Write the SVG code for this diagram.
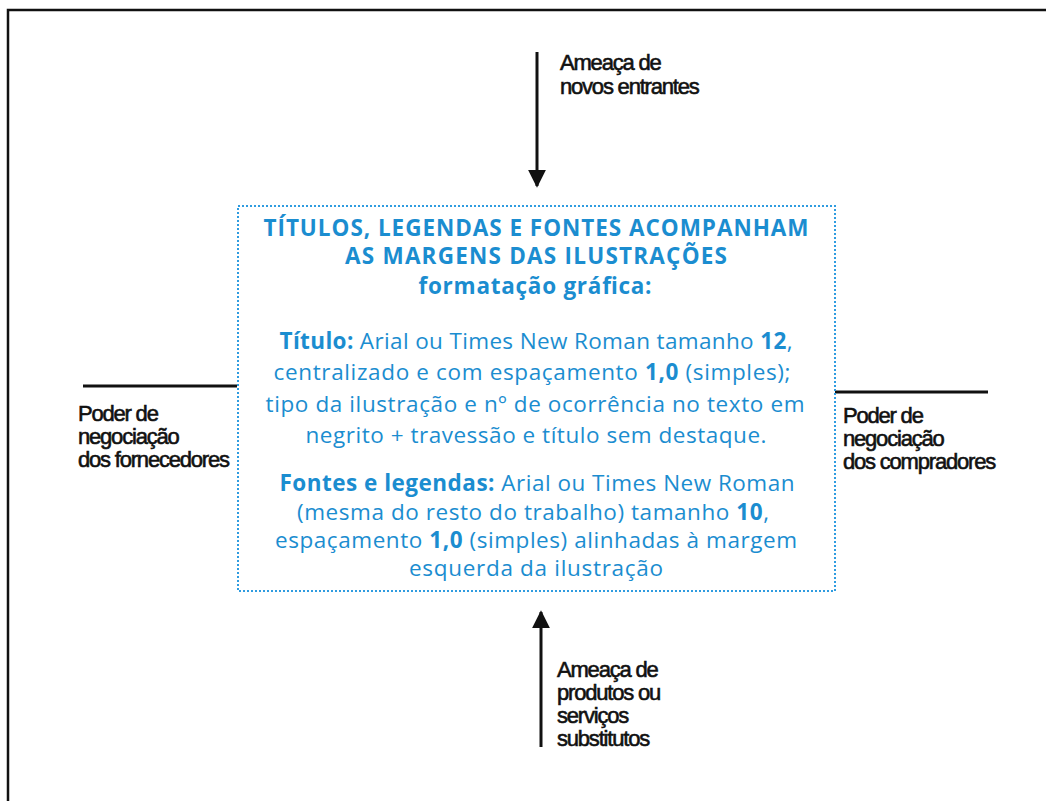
<svg xmlns="http://www.w3.org/2000/svg" width="1046" height="801" viewBox="0 0 1046 801">
<style>
.lbl{font-family:"Liberation Sans",Arial,sans-serif;font-size:22px;letter-spacing:-1.2px;fill:#111;stroke:#111;stroke-width:0.6}
.bx{font-family:"Open Sans","Noto Sans",sans-serif;fill:#1b8dd0;text-anchor:middle}
.hd{font-size:22.5px;font-weight:bold}
.bd{font-size:22.5px}
.b{font-weight:bold}
.ln{stroke:#111;stroke-width:3;fill:none}
</style>
<defs>
<marker id="ah" viewBox="0 0 10 10" refX="9" refY="5" markerWidth="6" markerHeight="6.5" markerUnits="strokeWidth" orient="auto">
<path d="M0,0 L10,5 L0,10 z" fill="#111"/>
</marker>
</defs>
<rect width="1046" height="801" fill="#fff"/>
<g id="frame">
<path d="M8,801 V10 H1046" fill="none" stroke="#111" stroke-width="2.5"/>
</g>
<g id="connectors">
<line class="ln" x1="537" y1="52" x2="537" y2="186" marker-end="url(#ah)"/>
<line class="ln" x1="541" y1="747" x2="541" y2="612" marker-end="url(#ah)"/>
<line class="ln" x1="83" y1="386" x2="237" y2="386"/>
<line class="ln" x1="835" y1="392" x2="988" y2="392"/>
</g>
<g id="center">
<rect x="238" y="206" width="597" height="385" fill="none" stroke="#2f9ce0" stroke-width="2" stroke-dasharray="2,2"/>
<text class="bx hd" x="536" y="236" textLength="545">TÍTULOS, LEGENDAS E FONTES ACOMPANHAM</text>
<text class="bx hd" x="536" y="264" textLength="382">AS MARGENS DAS ILUSTRAÇÕES</text>
<text class="bx hd" x="535" y="294" textLength="233">formatação gráfica:</text>
<text class="bx bd" x="536" y="349" textLength="513"><tspan class="b">Título:</tspan> Arial ou Times New Roman tamanho <tspan class="b">12</tspan>,</text>
<text class="bx bd" x="532" y="380" textLength="517">centralizado e com espaçamento <tspan class="b">1,0</tspan> (simples);</text>
<text class="bx bd" x="535" y="412" textLength="539">tipo da ilustração e nº de ocorrência no texto em</text>
<text class="bx bd" x="536" y="443" textLength="461">negrito + travessão e título sem destaque.</text>
<text class="bx bd" x="537" y="491" textLength="515"><tspan class="b">Fontes e legendas:</tspan> Arial ou Times New Roman</text>
<text class="bx bd" x="533" y="520" textLength="472">(mesma do resto do trabalho) tamanho <tspan class="b">10</tspan>,</text>
<text class="bx bd" x="536" y="548" textLength="522">espaçamento <tspan class="b">1,0</tspan> (simples) alinhadas à margem</text>
<text class="bx bd" x="536" y="576" textLength="254">esquerda da ilustração</text>
</g>
<g id="top-label">
<text class="lbl" x="560" y="70">Ameaça de</text>
<text class="lbl" x="560" y="94">novos entrantes</text>
</g>
<g id="left-label">
<text class="lbl" x="78" y="421">Poder de</text>
<text class="lbl" x="78" y="444">negociação</text>
<text class="lbl" x="78" y="467">dos fornecedores</text>
</g>
<g id="right-label">
<text class="lbl" x="843" y="423">Poder de</text>
<text class="lbl" x="843" y="446">negociação</text>
<text class="lbl" x="843" y="469">dos compradores</text>
</g>
<g id="bottom-label">
<text class="lbl" x="557" y="677">Ameaça de</text>
<text class="lbl" x="557" y="700">produtos ou</text>
<text class="lbl" x="557" y="723">serviços</text>
<text class="lbl" x="557" y="746">substitutos</text>
</g>
</svg>
